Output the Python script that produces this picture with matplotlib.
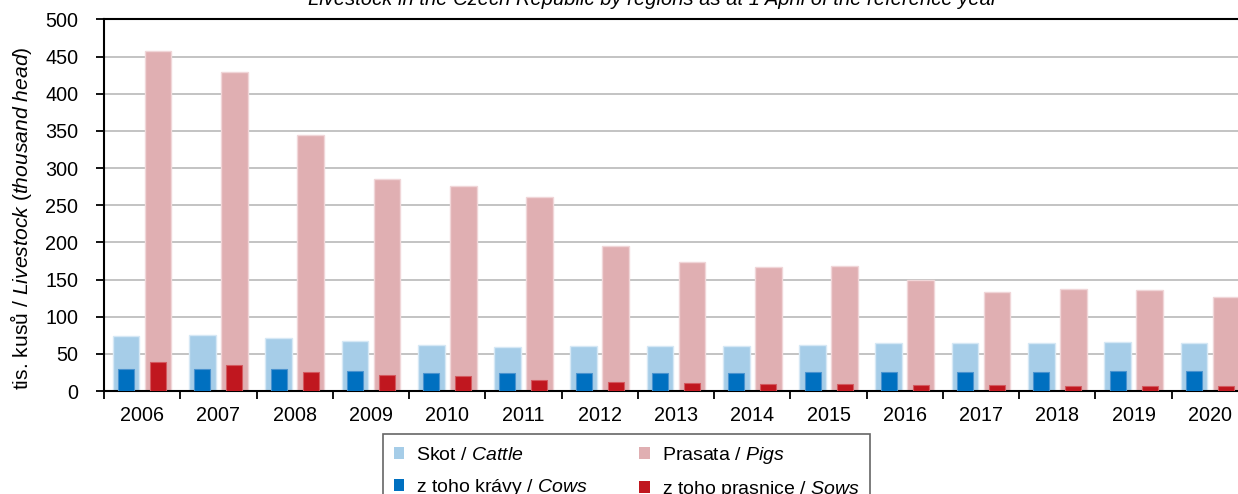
import numpy as np
import matplotlib
matplotlib.use('Agg')
import matplotlib.pyplot as plt
from matplotlib.patches import Patch

plt.rcParams['font.family'] = ['Liberation Sans', 'DejaVu Sans']
plt.rcParams['mathtext.fontset'] = 'custom'
plt.rcParams['mathtext.rm'] = 'Liberation Sans'
plt.rcParams['mathtext.it'] = 'Liberation Sans:italic'

years = [str(y) for y in range(2006, 2021)]
cattle = [74, 75, 72, 67, 62, 59, 60, 60, 60, 62, 64, 64, 65, 66, 65]
pigs = [458, 430, 344, 286, 276, 261, 195, 174, 167, 168, 150, 133, 137, 136, 127]
cows = [30, 29, 29, 27, 24, 24, 24, 24, 24, 26, 26, 26, 26, 27, 27]
sows = [39, 35, 25, 21, 20, 15, 12, 11, 10, 9, 8, 7.5, 7, 7, 6.5]
yticks = list(range(0, 501, 50))

c_cattle = '#A6CDE8'
c_pigs = '#E0AFB2'
c_cows = '#0070C0'
c_sows = '#C0171F'

W, H = 1238, 494
fig = plt.figure(figsize=(W / 100, H / 100), dpi=100)
ax = fig.add_axes([104 / W, (H - 391) / H, (1248 - 104) / W, (391 - 19.5) / H])

x = np.arange(len(years))
off = 0.21
ax.bar(x - off, cattle, width=0.35, color=c_cattle, edgecolor='#D6E8F5', linewidth=1.0, zorder=2)
ax.bar(x + off, pigs, width=0.35, color=c_pigs, edgecolor='#F0D6D8', linewidth=1.0, zorder=2)
ax.bar(x - off, cows, width=0.21, color=c_cows, edgecolor='#4A93CF', linewidth=0.8, zorder=3)
ax.bar(x + off, sows, width=0.21, color=c_sows, edgecolor='#D35A60', linewidth=0.8, zorder=3)

ax.set_xlim(-0.5, len(years) - 0.5)
ax.set_ylim(0, 500)
ax.set_yticks(yticks)
ax.set_yticklabels([str(v) for v in yticks], fontsize=14.2)
ax.set_xticks(x)
ax.set_xticklabels(years, fontsize=14.2)
ax.set_xticks(np.arange(-0.5, len(years)), minor=True)
ax.tick_params(axis='x', which='major', length=0, pad=11)
ax.tick_params(axis='x', which='minor', length=6, width=1.3, direction='out')
ax.tick_params(axis='y', length=6, width=1.3, direction='out', pad=12.5)

ax.yaxis.grid(True, color='#BEBEBE', linewidth=1.3)
ax.set_axisbelow(True)
for s in ['left', 'bottom', 'top']:
    ax.spines[s].set_linewidth(1.5)
    ax.spines[s].set_color('black')
ax.spines['right'].set_visible(False)

fig.text(21 / W, 1 - 218 / H, 'tis. kusů / $\\mathit{Livestock\\ (thousand\\ head)}$',
         rotation=90, ha='center', va='center', fontsize=15.2)

fig.text(653 / W, 1 - 5 / H,
         'Livestock in the Czech Republic by regions as at 1 April of the reference year',
         ha='center', va='baseline', style='italic', fontsize=14.5)

handles = [Patch(facecolor=c_cattle), Patch(facecolor=c_cows),
           Patch(facecolor=c_pigs), Patch(facecolor=c_sows)]
labels = ['Skot / $\\mathit{Cattle}$', 'z toho krávy / $\\mathit{Cows}$',
          'Prasata / $\\mathit{Pigs}$', 'z toho prasnice / $\\mathit{Sows}$']
leg = fig.legend(handles, labels, ncol=2, loc='upper left',
                 bbox_to_anchor=(382.7 / W, 1 - 434 / H), borderaxespad=0,
                 fontsize=14, frameon=True, fancybox=False, edgecolor='#404040',
                 handlelength=0.55, handleheight=0.55, handletextpad=0.6,
                 columnspacing=2.65, labelspacing=0.68, borderpad=0.56)
leg.get_frame().set_linewidth(1.2)

fig.savefig('out.png', dpi=100)
